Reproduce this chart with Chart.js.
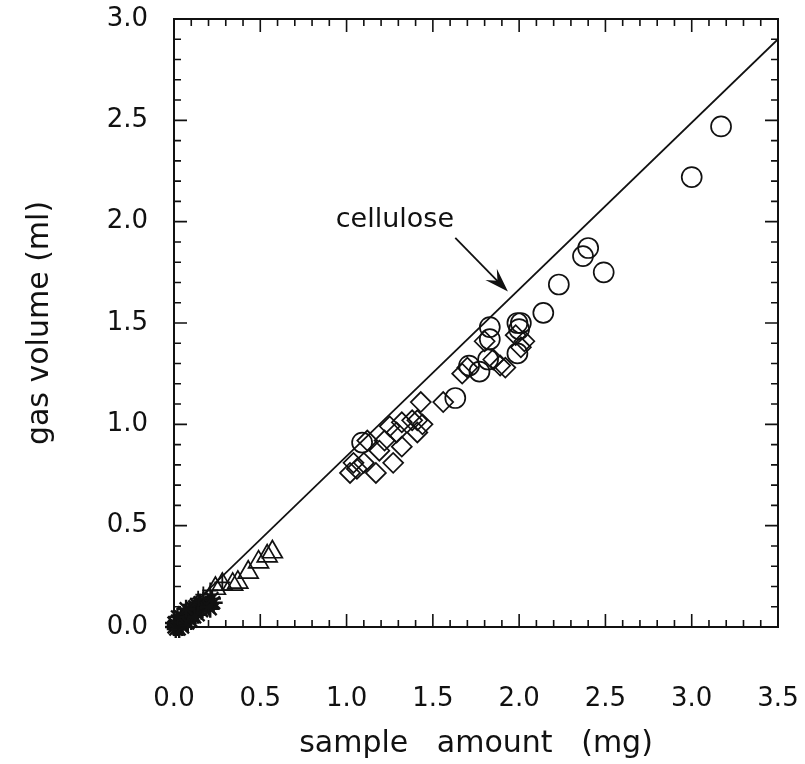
<!DOCTYPE html>
<html>
<head>
<meta charset="utf-8">
<script src="https://cdn.jsdelivr.net/npm/chart.js"></script>
<style>
  body { margin: 0; background: #fff; }
</style>
</head>
<body>
<canvas id="chart" width="805" height="764"></canvas>
<script>
// values (sample amount in mg, gas volume in ml)
const circleX = [3.17, 3.00, 2.49, 2.40, 2.37, 2.23, 2.14, 2.01, 1.99, 2.00, 1.83, 1.83, 1.99, 1.82, 1.77, 1.71, 1.63, 1.09];
const circleY = [2.47, 2.22, 1.75, 1.87, 1.83, 1.69, 1.55, 1.50, 1.50, 1.47, 1.48, 1.42, 1.35, 1.32, 1.26, 1.29, 1.13, 0.91];

const diamondX = [1.80, 1.85, 1.92, 1.98, 2.03, 2.01, 1.70, 1.67, 1.89, 1.43, 1.56,
                  1.25, 1.32, 1.38, 1.41, 1.44, 1.41, 1.29, 1.22, 1.32, 1.27, 1.17, 1.06, 1.02, 1.10, 1.04, 1.12, 1.19];
const diamondY = [1.41, 1.32, 1.28, 1.44, 1.41, 1.38, 1.28, 1.25, 1.29, 1.11, 1.11,
                  0.99, 1.01, 1.02, 1.02, 1.00, 0.96, 0.96, 0.92, 0.89, 0.81, 0.76, 0.78, 0.76, 0.81, 0.81, 0.92, 0.87];

const triangleX = [0.57, 0.54, 0.49, 0.43, 0.37, 0.34, 0.28, 0.24];
const triangleY = [0.37, 0.35, 0.32, 0.27, 0.22, 0.21, 0.21, 0.19];

const crossX = [0.28, 0.21, 0.17, 0.14];
const crossY = [0.22, 0.18, 0.16, 0.14];

const starX = [0.00, 0.01, 0.02, 0.03, 0.02, 0.04, 0.05, 0.04, 0.06, 0.07, 0.08, 0.06, 0.09, 0.10,
               0.11, 0.12, 0.13, 0.15, 0.17, 0.19, 0.21, 0.23, 0.16, 0.14, 0.10, 0.00, 0.01, 0.03, 0.20, 0.22,
               0.05, 0.08, 0.12, 0.02, 0.07];
const starY = [0.00, 0.01, 0.00, 0.02, 0.03, 0.01, 0.03, 0.05, 0.04, 0.06, 0.05, 0.07, 0.08, 0.07,
               0.09, 0.10, 0.11, 0.12, 0.13, 0.11, 0.09, 0.12, 0.08, 0.06, 0.03, 0.02, -0.01, -0.01, 0.10, 0.14,
               0.00, 0.02, 0.05, 0.05, 0.09];

// reference line for cellulose
const celluloseX = [0.0, 3.5];
const celluloseY = [0.02, 2.90];

const xTicks = [0.0, 0.5, 1.0, 1.5, 2.0, 2.5, 3.0, 3.5];
const yTicks = [0.0, 0.5, 1.0, 1.5, 2.0, 2.5, 3.0];

// label + arrow, in data units
const noteText = "cellulose";
const notePos = { x: 1.28, y: 2.01 };
const arrowFrom = { x: 1.63, y: 1.92 };
const arrowTo = { x: 1.935, y: 1.655 };

const pts = (xs, ys) => xs.map((x, i) => ({ x: x, y: ys[i] }));

const FONT = "'DejaVu Sans', sans-serif";
const INK = "#111";

const framePlugin = {
    id: "frame",
    afterDatasetsDraw(chart) {
        const ctx = chart.ctx;
        const xs = chart.scales.x, ys = chart.scales.y;
        const { left, right, top, bottom } = chart.chartArea;
        ctx.save();
        ctx.strokeStyle = INK;
        ctx.lineWidth = 2;
        ctx.strokeRect(left, top, right - left, bottom - top);

        // inward ticks on all four sides, minor every 0.1
        ctx.lineWidth = 1.6;
        ctx.beginPath();
        for (let i = 0; i <= 35; i++) {
            const px = xs.getPixelForValue(i / 10);
            const len = i % 5 === 0 ? 13 : 7;
            ctx.moveTo(px, bottom); ctx.lineTo(px, bottom - len);
            ctx.moveTo(px, top); ctx.lineTo(px, top + len);
        }
        for (let i = 0; i <= 30; i++) {
            const py = ys.getPixelForValue(i / 10);
            const len = i % 5 === 0 ? 13 : 7;
            ctx.moveTo(left, py); ctx.lineTo(left + len, py);
            ctx.moveTo(right, py); ctx.lineTo(right - len, py);
        }
        ctx.stroke();

        // annotation
        ctx.fillStyle = INK;
        ctx.font = "27px " + FONT;
        ctx.textAlign = "center";
        ctx.textBaseline = "middle";
        ctx.fillText(noteText, xs.getPixelForValue(notePos.x), ys.getPixelForValue(notePos.y));

        const x0 = xs.getPixelForValue(arrowFrom.x), y0 = ys.getPixelForValue(arrowFrom.y);
        const x1 = xs.getPixelForValue(arrowTo.x), y1 = ys.getPixelForValue(arrowTo.y);
        const ang = Math.atan2(y1 - y0, x1 - x0);
        const ux = Math.cos(ang), uy = Math.sin(ang);
        ctx.lineWidth = 1.8;
        ctx.beginPath();
        ctx.moveTo(x0, y0);
        ctx.lineTo(x1 - ux * 12, y1 - uy * 12);
        ctx.stroke();
        ctx.beginPath();
        ctx.moveTo(x1, y1);
        ctx.lineTo(x1 - ux * 24 - uy * 8, y1 - uy * 24 + ux * 8);
        ctx.lineTo(x1 - ux * 15, y1 - uy * 15);
        ctx.lineTo(x1 - ux * 24 + uy * 8, y1 - uy * 24 - ux * 8);
        ctx.closePath();
        ctx.fill();
        ctx.restore();
    }
};

const marker = (style, r, bw) => ({
    type: "scatter",
    pointStyle: style,
    pointRadius: r,
    pointHoverRadius: r,
    pointBorderWidth: bw,
    borderColor: INK,
    pointBorderColor: INK,
    backgroundColor: "rgba(0,0,0,0)",
    pointBackgroundColor: "rgba(0,0,0,0)",
    clip: false
});

new Chart(document.getElementById("chart"), {
    type: "scatter",
    data: {
        datasets: [
            Object.assign(marker("circle", 10, 1.7), { label: "circles", data: pts(circleX, circleY) }),
            Object.assign(marker("rectRot", 10, 1.7), { label: "diamonds", data: pts(diamondX, diamondY) }),
            Object.assign(marker("triangle", 11.5, 1.7), { label: "triangles", data: pts(triangleX, triangleY) }),
            Object.assign(marker("cross", 8, 1.8), { label: "crosses", data: pts(crossX, crossY) }),
            Object.assign(marker("star", 9, 2.4), { label: "stars", data: pts(starX, starY) }),
            {
                type: "line",
                label: "cellulose",
                data: pts(celluloseX, celluloseY),
                borderColor: INK,
                borderWidth: 1.8,
                pointRadius: 0,
                fill: false
            }
        ]
    },
    options: {
        responsive: false,
        animation: false,
        layout: { padding: { top: 19, right: 27, left: 0, bottom: 0 } },
        plugins: { legend: { display: false }, tooltip: { enabled: false } },
        scales: {
            x: {
                type: "linear",
                min: 0, max: 3.5,
                afterBuildTicks: s => { s.ticks = xTicks.map(v => ({ value: v })); },
                afterFit: s => { s.height = 137; s.paddingLeft = 0; s.paddingRight = 0; },
                grid: { display: false },
                border: { display: false },
                ticks: {
                    padding: 49,
                    color: INK,
                    font: { family: FONT, size: 26 },
                    maxRotation: 0,
                    callback: v => Number(v).toFixed(1)
                },
                title: {
                    display: true,
                    text: "sample   amount   (mg)",
                    color: INK,
                    font: { family: FONT, size: 30 },
                    padding: { top: 0, bottom: 2 }
                }
            },
            y: {
                type: "linear",
                min: 0, max: 3.0,
                afterBuildTicks: s => { s.ticks = yTicks.map(v => ({ value: v })); },
                afterFit: s => { s.width = 174; s.paddingTop = 0; s.paddingBottom = 0; },
                grid: { display: false },
                border: { display: false },
                ticks: {
                    padding: 18,
                    color: INK,
                    font: { family: FONT, size: 26 },
                    callback: v => Number(v).toFixed(1)
                },
                title: {
                    display: true,
                    text: "gas volume (ml)",
                    color: INK,
                    font: { family: FONT, size: 30 },
                    padding: { top: 22, bottom: 0 }
                }
            }
        }
    },
    plugins: [framePlugin]
});
</script>
</body>
</html>
